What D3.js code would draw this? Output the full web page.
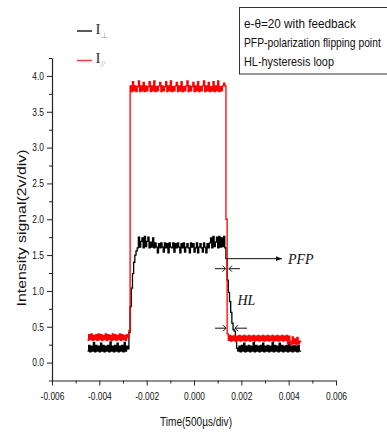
<!DOCTYPE html>
<html>
<head>
<meta charset="utf-8">
<script src="https://cdn.jsdelivr.net/npm/d3@7"></script>
<style>
  html, body { margin: 0; padding: 0; background: #fff; }
  svg { display: block; }
  .sans { font-family: "Liberation Sans", Arial, sans-serif; }
  .serif { font-family: "Liberation Serif", "Times New Roman", serif; }
</style>
</head>
<body>
<svg id="chart" width="387" height="432"></svg>
<script>
// Oscilloscope sampling grid (seconds)
const tStart = -0.0045;
const tStep = 0.00005;

// I⊥ trace (V)
const perpValues = [
  0.16,0.24,0.15,0.23,0.16,0.28,0.15,0.24,0.16,0.23,
  0.15,0.27,0.16,0.24,0.15,0.23,0.16,0.24,0.15,0.29,
  0.16,0.23,0.15,0.24,0.16,0.27,0.15,0.23,0.16,0.24,
  0.15,0.28,0.16,0.23,
  0.19,0.42,0.78,1.04,1.24,1.40,1.50,1.56,
  1.60,1.75,1.61,1.69,1.74,1.60,1.76,1.62,1.69,1.75,1.60,1.68,1.61,1.74,
  1.60,1.67,1.61,1.53,1.66,1.60,1.67,1.61,1.54,1.67,
  1.60,1.66,1.53,1.67,1.61,1.60,1.67,1.54,1.66,1.60,
  1.67,1.61,1.53,1.66,1.60,1.67,1.54,1.61,1.66,1.60,
  1.53,1.67,1.61,1.66,1.54,1.60,1.67,1.53,1.61,1.66,
  1.60,1.54,1.67,1.61,1.53,1.66,1.60,1.67,
  1.74,1.60,1.76,1.62,1.68,1.75,1.60,1.76,1.61,1.74,1.62,1.76,1.60,
  1.45,1.15,0.98,0.85,0.70,0.55,0.46,0.44,0.30,0.20,
  0.16,0.23,0.15,0.24,0.16,0.27,0.15,0.23,0.16,0.24,
  0.15,0.23,0.16,0.28,0.15,0.24,0.16,0.23,0.15,0.24,
  0.16,0.27,0.15,0.23,0.16,0.24,0.15,0.23,0.16,0.28,
  0.15,0.24,0.16,0.23,0.15,0.27,0.16,0.24,0.15,0.23,
  0.16,0.24,0.15,0.28,0.16,0.23,0.15,0.24,0.16,0.23,
  0.15,0.24,0.16,0.15
];

// I// trace (V)
const parValues = [
  0.31,0.39,0.32,0.40,0.31,0.38,0.32,0.39,0.31,0.40,
  0.32,0.39,0.31,0.38,0.32,0.40,0.31,0.39,0.32,0.38,
  0.31,0.40,0.32,0.39,0.31,0.38,0.32,0.40,0.31,0.39,
  0.32,0.38,0.31,0.39,0.35,
  0.45,
  3.86,3.78,3.92,3.79,3.86,3.78,3.85,3.93,3.78,3.86,
  3.79,3.91,3.78,3.86,3.79,3.85,3.92,3.78,3.86,3.79,
  3.93,3.78,3.85,3.79,3.86,3.91,3.78,3.86,3.79,3.85,
  3.92,3.78,3.86,3.79,3.93,3.78,3.85,3.79,3.86,3.91,
  3.78,3.86,3.79,3.92,3.78,3.85,3.79,3.86,3.93,3.78,
  3.86,3.79,3.85,3.91,3.78,3.86,3.79,3.92,3.78,3.85,
  3.79,3.86,3.93,3.78,3.86,3.79,3.91,3.78,3.85,3.79,
  3.92,3.78,3.86,3.79,3.93,3.78,3.85,3.79,3.86,3.90,
  3.86,
  2.00,0.40,
  0.31,0.38,0.30,0.37,0.31,0.38,0.30,0.37,0.31,0.38,
  0.30,0.37,0.31,0.38,0.30,0.37,0.31,0.38,0.30,0.37,
  0.31,0.38,0.30,0.37,0.31,0.38,0.30,0.37,0.31,0.38,
  0.30,0.37,0.31,0.38,0.30,0.37,0.31,0.38,0.30,0.37,
  0.31,0.38,0.30,0.37,0.31,0.38,0.30,0.37,0.31,0.38,
  0.26,0.37,0.30,0.25,0.36,0.27,0.33,0.25,0.35,0.26,
  0.30,0.28
];

// Axis ticks
const xMajorTicks = [-0.006, -0.004, -0.002, 0.000, 0.002, 0.004, 0.006];
const xMinorTicks = [-0.005, -0.003, -0.001, 0.001, 0.003, 0.005];
const yMajorTicks = [0.0, 0.5, 1.0, 1.5, 2.0, 2.5, 3.0, 3.5, 4.0];
const yMinorTicks = [-0.25, 0.25, 0.75, 1.25, 1.75, 2.25, 2.75, 3.25, 3.75, 4.25];

// Legend and notes
const seriesNames = ["⊥", "//"];
const noteLines = ["e-θ=20 with feedback", "PFP-polarization flipping point", "HL-hysteresis loop"];

const svg = d3.select("#chart");

const x = d3.scaleLinear().domain([-0.006, 0.006]).range([52, 336]);
const y = d3.scaleLinear().domain([-0.25, 4.25]).range([380.5, 58]);

const toPoints = vals => vals.map((v, i) => ({ t: tStart + i * tStep, v }));
// scope traces: hold each sample until the next one
const line = d3.line().x(d => x(d.t)).y(d => y(d.v)).curve(d3.curveStepAfter);

// Narrow-looking text: squeeze glyphs horizontally
function squeeze(sel, k) {
  sel.each(function () {
    const w = this.getComputedTextLength();
    d3.select(this).attr("textLength", w * k).attr("lengthAdjust", "spacingAndGlyphs");
  });
}

// Traces
svg.append("path").datum(toPoints(perpValues))
  .attr("d", line).attr("fill", "none")
  .attr("stroke", "#000").attr("stroke-width", 1.3);
svg.append("path").datum(toPoints(parValues))
  .attr("d", line).attr("fill", "none")
  .attr("stroke", "#ff0000").attr("stroke-width", 1.3);

// Axes
function styleAxis(g) {
  g.select(".domain").attr("stroke", "#222").attr("stroke-width", 1.2);
  g.selectAll(".tick line").attr("stroke", "#222").attr("stroke-width", 1);
  g.selectAll(".tick text").attr("class", "sans").attr("font-size", 10.5).attr("fill", "#111");
}

const fmtX = d => d.toFixed(3);
const fmtY = d => d.toFixed(1);

svg.append("g").attr("transform", "translate(0,380.5)")
  .call(d3.axisBottom(x).tickValues(xMinorTicks).tickSize(3).tickFormat(""))
  .call(g => g.select(".domain").remove())
  .call(styleAxis);
svg.append("g").attr("transform", "translate(0,380.5)")
  .call(d3.axisBottom(x).tickValues(xMajorTicks).tickSize(5).tickSizeOuter(0).tickPadding(7).tickFormat(fmtX))
  .call(styleAxis)
  .call(g => squeeze(g.selectAll(".tick text"), 0.8));

svg.append("g").attr("transform", "translate(52,0)")
  .call(d3.axisLeft(y).tickValues(yMinorTicks).tickSize(3).tickFormat(""))
  .call(g => g.select(".domain").remove())
  .call(styleAxis);
svg.append("g").attr("transform", "translate(52,0)")
  .call(d3.axisLeft(y).tickValues(yMajorTicks).tickSize(5).tickSizeOuter(0).tickPadding(3).tickFormat(fmtY))
  .call(styleAxis)
  .call(g => squeeze(g.selectAll(".tick text"), 0.8));

// Axis titles
svg.append("text").attr("class", "sans")
  .attr("x", 196).attr("y", 426).attr("text-anchor", "middle")
  .attr("font-size", 12.5).attr("fill", "#111")
  .attr("textLength", 72).attr("lengthAdjust", "spacingAndGlyphs")
  .text("Time(500µs/div)");
svg.append("text").attr("class", "sans")
  .attr("transform", "translate(26,228) rotate(-90)")
  .attr("text-anchor", "middle")
  .attr("font-size", 12.5).attr("fill", "#111")
  .attr("textLength", 157).attr("lengthAdjust", "spacingAndGlyphs")
  .text("Intensity signal(2v/div)");

// Legend
const legendColors = ["#222", "#ff3b3b"];
const legendRows = svg.append("g");
seriesNames.forEach((name, i) => {
  const yy = 31 + i * 29.5;
  legendRows.append("line")
    .attr("x1", 77).attr("x2", 92).attr("y1", yy).attr("y2", yy)
    .attr("stroke", legendColors[i]).attr("stroke-width", 1.5);
  const t = legendRows.append("text").attr("class", "serif")
    .attr("x", 95.5).attr("y", yy + 2.5).attr("fill", "#333").attr("font-size", 15);
  t.append("tspan").text("I");
  t.append("tspan").attr("dy", 4).attr("font-size", 8).attr("fill", "#999")
    .attr("font-style", i === 1 ? "italic" : "normal").text(name);
});

// Notes box
svg.append("rect")
  .attr("x", 239.5).attr("y", 7.5).attr("width", 160).attr("height", 66.5)
  .attr("fill", "#fff").attr("stroke", "#333").attr("stroke-width", 1);
const noteWidths = [112, 137, 90];
noteLines.forEach((s, i) => {
  const t = svg.append("text").attr("class", "sans")
    .attr("x", 0).attr("y", 0)
    .attr("font-size", 12.5).attr("fill", "#111")
    .text(s);
  const k = noteWidths[i] / t.node().getComputedTextLength();
  t.attr("transform", `translate(244,${27.5 + i * 19.3}) scale(${k},1)`);
});

// Annotations: polarization flipping point and hysteresis loop
const pfpT = 0.00139, pfpV = 1.45;
svg.append("defs").append("marker")
  .attr("id", "tri").attr("viewBox", "0 0 10 10").attr("refX", 10).attr("refY", 5)
  .attr("markerWidth", 8).attr("markerHeight", 6).attr("orient", "auto")
  .append("path").attr("d", "M0,1 L10,5 L0,9 Z").attr("fill", "#111");
const ann = svg.append("g").attr("stroke", "#111").attr("fill", "none").attr("stroke-width", 1);
ann.append("line")
  .attr("x1", x(pfpT)).attr("y1", y(pfpV)).attr("x2", 282).attr("y2", y(pfpV))
  .attr("marker-end", "url(#tri)");

function pinch(yy, leftEnd, leftTip, rightTip, rightEnd) {
  ann.append("line").attr("x1", leftEnd).attr("x2", leftTip).attr("y1", yy).attr("y2", yy);
  ann.append("path").attr("d", `M${leftTip - 3},${yy - 3} L${leftTip},${yy} L${leftTip - 3},${yy + 3}`);
  ann.append("line").attr("x1", rightEnd).attr("x2", rightTip).attr("y1", yy).attr("y2", yy);
  ann.append("path").attr("d", `M${rightTip + 3},${yy - 3} L${rightTip},${yy} L${rightTip + 3},${yy + 3}`);
}
pinch(y(1.31), 215, 225.5, 229, 240);
pinch(y(0.48), 215, 226, 235, 247);

svg.append("text").attr("class", "serif")
  .attr("x", 288).attr("y", y(pfpV) + 5).attr("font-style", "italic")
  .attr("font-size", 14).attr("fill", "#111").text("PFP");
svg.append("text").attr("class", "serif")
  .attr("x", 237.5).attr("y", 305).attr("font-style", "italic")
  .attr("font-size", 14).attr("fill", "#111").text("HL");
</script>
</body>
</html>
